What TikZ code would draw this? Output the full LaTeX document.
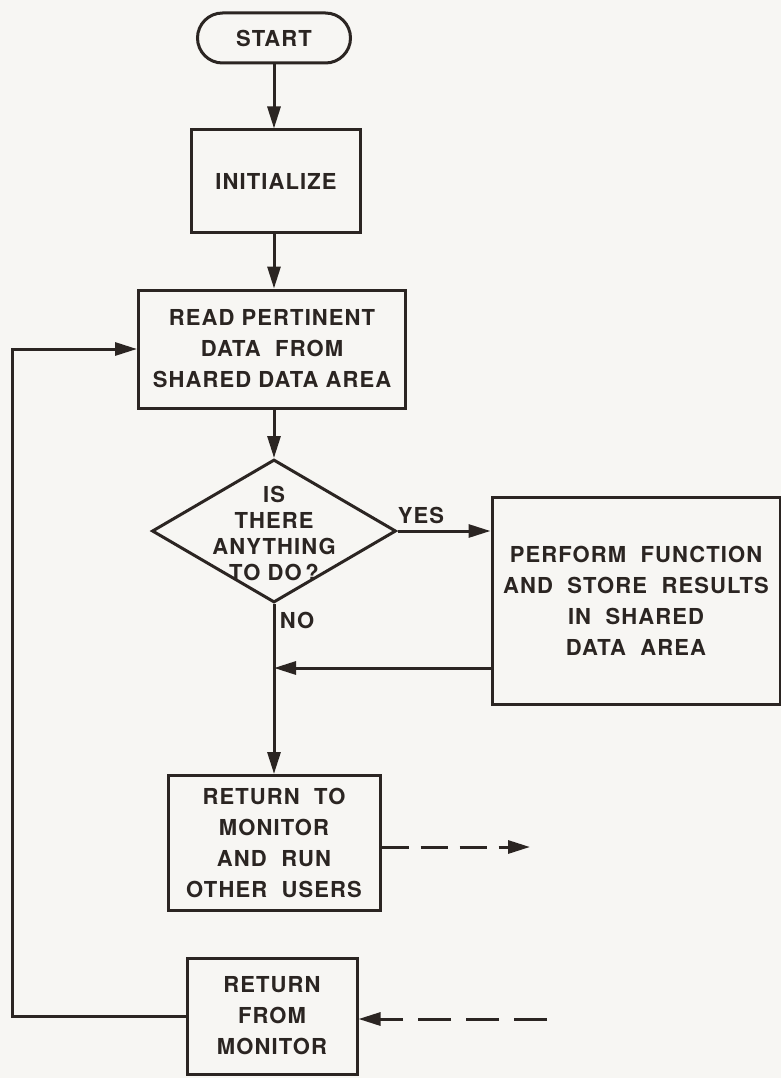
\documentclass[tikz,border=0pt]{standalone}
\usepackage{fontspec}
\setmainfont{TeX Gyre Heros}[LetterSpace=5]
\usetikzlibrary{shapes.geometric,arrows.meta}
\definecolor{ink}{HTML}{2B2522}
\definecolor{paper}{HTML}{F7F6F3}
\begin{document}
\begin{tikzpicture}[x=1pt,y=-1pt,
  txt/.style={text=ink, font=\fontsize{22}{31}\selectfont\bfseries, align=center},
  box/.style={txt, draw=ink, line width=3pt, rectangle, inner sep=0pt},
  term/.style={box, rounded corners=25pt},
  dec/.style={draw=ink, line width=3pt, diamond, inner sep=0pt},
  flow/.style={draw=ink, line width=3pt, -{Triangle[length=22pt,width=13pt]}},
  lbl/.style={txt, font=\fontsize{22}{26}\selectfont\bfseries}]
\fill[paper] (0,0) rectangle (781,1078);
\useasboundingbox (0,0) rectangle (781,1078);

\coordinate (axis) at (274,0);
\coordinate (loopx) at (12,0);

\node[term, minimum width=153pt, minimum height=50pt] (start) at (274,38) {START};
\node[box, minimum width=169pt, minimum height=102pt] (init) at (276,181) {INITIALIZE};
\node[box, minimum width=267pt, minimum height=118pt] (read) at (272,349)
  {READ PERTINENT\\DATA\ \ FROM\\SHARED DATA AREA};
\node[dec, minimum width=244pt, minimum height=143pt] (decision) at (274,531) {};
\node[lbl] (dectext) at (274,533) {IS\\THERE\\ANYTHING\\TO DO\,?};
\node[box, minimum width=288pt, minimum height=207pt] (perform) at (636,601)
  {PERFORM\ \ FUNCTION\\AND\ \ STORE\ \ RESULTS\\IN\ \ SHARED\\DATA\ \ AREA};
\node[box, minimum width=212pt, minimum height=135pt] (retto) at (274,843)
  {RETURN\ \ TO\\MONITOR\\AND\ \ RUN\\OTHER\ \ USERS};
\node[box, minimum width=170pt, minimum height=116pt] (retfrom) at (272,1016)
  {RETURN\\FROM\\MONITOR};

\node[lbl] (yes) at (421,515) {YES};
\node[lbl] (no) at (297,620) {NO};

\coordinate (join) at (274,668);
\coordinate (out) at (530,847);
\coordinate (in) at (547,1019);

\draw[flow] (start.south -| axis) -- (init.north -| axis);
\draw[flow] (init.south -| axis) -- (read.north -| axis);
\draw[flow] (read.south -| axis) -- (decision.north);
\draw[flow] (decision.east) -- (decision.east -| perform.west);
\draw[flow] (decision.south) -- (retto.north -| axis);
\draw[flow] (perform.west |- join) -- (join);
\draw[flow, dash pattern=on 27pt off 12pt] (retto.east |- out) -- (out);
\draw[flow, dash pattern=on 33pt off 15pt] (in) -- (in -| retfrom.east);
\draw[flow] (retfrom.west) -- (retfrom.west -| loopx) |- (read.west);
\end{tikzpicture}
\end{document}
